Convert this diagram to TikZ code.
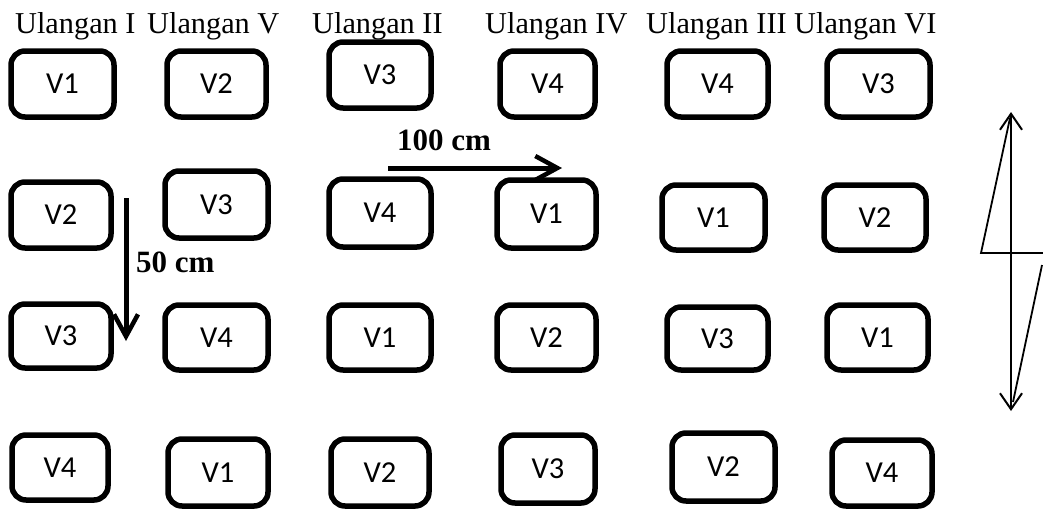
\documentclass[tikz,border=0pt]{standalone}
\usepackage{fontspec}
\setmainfont{Liberation Serif}
\newfontfamily\cellfont{Carlito}
\usetikzlibrary{arrows.meta}
\tikzset{
  cell/.style={draw, line width=5.5pt, rounded corners=14pt, inner sep=0pt, font=\cellfont\fontsize{30.5}{30}\selectfont},
  head/.style={anchor=base west, inner sep=0pt, font=\fontsize{30.3}{30}\selectfont},
  dimlabel/.style={anchor=base west, inner sep=0pt, font=\bfseries\fontsize{31}{31}\selectfont},
  dimarrow/.style={line width=5pt, -{Straight Barb[length=22pt,width=24pt,line width=4.5pt]}},
  northarrow/.style={line width=2pt, {Straight Barb[length=16pt,width=22pt,line width=2pt]}-{Straight Barb[length=16pt,width=22pt,line width=2pt]}},
  bolt/.style={line width=1.8pt, line join=miter}
}
\newcommand{\plotcell}[6]{%
  \node[cell, minimum width={(#4-#2-4)*1pt}, minimum height={(#5-#3-4)*1pt}] (#1) at ({(#2+#4)/2},{(#3+#5)/2}) {#6};}
\begin{document}
\begin{tikzpicture}[x=1pt,y=-1pt]
\useasboundingbox (0,0) rectangle (1043,512);
% headers
\node[head] (h1) at (15,33) {Ulangan I};
\node[head] (h2) at (147,33) {Ulangan V};
\node[head] (h3) at (312,33) {Ulangan II};
\node[head] (h4) at (485,33) {Ulangan IV};
\node[head] (h5) at (646,33) {Ulangan III};
\node[head] (h6) at (794,33) {Ulangan VI};
% row 1
\plotcell{b11}{9}{49}{116}{119}{V1}
\plotcell{b12}{165}{49}{268}{119}{V2}
\plotcell{b13}{327}{40}{433}{110}{V3}
\plotcell{b14}{498}{49}{597}{119}{V4}
\plotcell{b15}{665}{49}{770}{119}{V4}
\plotcell{b16}{825}{49}{932}{119}{V3}
% row 2
\plotcell{b21}{9}{180}{113}{250}{V2}
\plotcell{b22}{163}{169}{270}{240}{V3}
\plotcell{b23}{327}{177}{433}{249}{V4}
\plotcell{b24}{495}{178}{598}{250}{V1}
\plotcell{b25}{660}{183}{767}{252}{V1}
\plotcell{b26}{822}{183}{928}{252}{V2}
% row 3
\plotcell{b31}{9}{302}{113}{370}{V3}
\plotcell{b32}{163}{303}{270}{372}{V4}
\plotcell{b33}{327}{303}{433}{372}{V1}
\plotcell{b34}{495}{303}{598}{372}{V2}
\plotcell{b35}{665}{305}{770}{372}{V3}
\plotcell{b36}{825}{303}{930}{372}{V1}
% row 4
\plotcell{b41}{10}{433}{110}{502}{V4}
\plotcell{b42}{166}{437}{270}{508}{V1}
\plotcell{b43}{329}{437}{431}{508}{V2}
\plotcell{b44}{499}{433}{597}{505}{V3}
\plotcell{b45}{670}{431}{777}{503}{V2}
\plotcell{b46}{830}{438}{934}{508}{V4}
% dimension arrows
\coordinate (hA) at (388,168);
\coordinate (hB) at (562,168);
\draw[dimarrow] (hA) -- (hB);
\node[dimlabel] (l100) at (397,150) {100 cm};
\coordinate (vA) at (126,198);
\coordinate (vB) at (126,341);
\draw[dimarrow] (vA) -- (vB);
\node[dimlabel] (l50) at (136,272) {50 cm};
% north symbol
\coordinate (nT) at (1011,112);
\coordinate (nB) at (1011,411);
\draw[northarrow] (nT) -- (nB);
\coordinate (z1) at (981,253);
\coordinate (z2) at (1043,253);
\coordinate (z3) at (1042,265);
\coordinate (z4) at (1013,402);
\draw[bolt] (1010,118) -- (z1) -- (z2);
\draw[bolt] (z3) -- (z4);
\end{tikzpicture}
\end{document}
